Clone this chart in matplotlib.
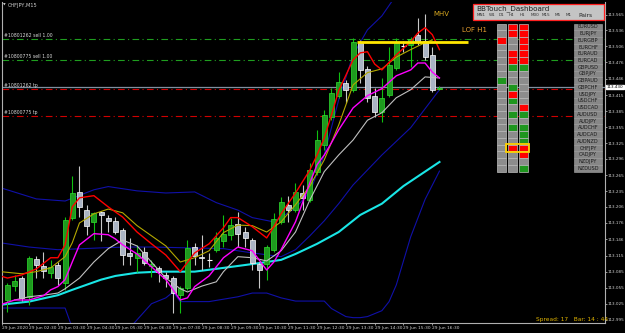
import matplotlib
matplotlib.use("Agg")
import matplotlib.pyplot as plt
from matplotlib.patches import Rectangle
import numpy as np

# ---- candle data (CHFJPY M15, one entry per bar) ----
opens = [113.032, 113.058, 113.073, 113.038, 113.109, 113.096, 113.083, 113.098, 113.064, 113.186,
         113.234, 113.200, 113.178, 113.197, 113.186, 113.180, 113.163, 113.120, 113.111, 113.122,
         113.096, 113.092, 113.079, 113.073, 113.041, 113.055, 113.131, 113.113, 113.107, 113.126,
         113.143, 113.154, 113.174, 113.159, 113.144, 113.100, 113.100, 113.126, 113.178, 113.210,
         113.200, 113.232, 113.219, 113.272, 113.322, 113.374, 113.414, 113.438, 113.425, 113.515,
         113.464, 113.414, 113.384, 113.415, 113.466, 113.507, 113.509, 113.528, 113.516, 113.490,
         113.427]
highs = [113.064, 113.079, 113.077, 113.115, 113.115, 113.122, 113.107, 113.103, 113.187, 113.264,
         113.283, 113.210, 113.197, 113.199, 113.191, 113.187, 113.167, 113.148, 113.135, 113.131,
         113.107, 113.096, 113.085, 113.077, 113.058, 113.144, 113.139, 113.154, 113.120, 113.159,
         113.191, 113.186, 113.197, 113.169, 113.148, 113.103, 113.135, 113.195, 113.225, 113.227,
         113.251, 113.247, 113.288, 113.350, 113.387, 113.429, 113.458, 113.444, 113.522, 113.518,
         113.470, 113.429, 113.447, 113.505, 113.522, 113.516, 113.524, 113.559, 113.567, 113.505,
         113.432]
lows = [113.010, 113.049, 113.030, 113.023, 113.073, 113.073, 113.073, 113.060, 113.051, 113.182,
        113.187, 113.154, 113.144, 113.143, 113.159, 113.156, 113.098, 113.098, 113.085, 113.098,
        113.075, 113.066, 113.057, 113.008, 113.008, 113.051, 113.098, 113.088, 113.094, 113.122,
        113.131, 113.144, 113.131, 113.131, 113.088, 113.055, 113.070, 113.122, 113.174, 113.178,
        113.197, 113.200, 113.215, 113.266, 113.312, 113.368, 113.410, 113.400, 113.421, 113.438,
        113.402, 113.374, 113.365, 113.412, 113.462, 113.496, 113.468, 113.509, 113.481, 113.421,
        113.425]
closes = [113.060, 113.068, 113.036, 113.111, 113.098, 113.086, 113.094, 113.073, 113.182, 113.232,
          113.206, 113.171, 113.195, 113.191, 113.180, 113.159, 113.116, 113.115, 113.120, 113.101,
          113.100, 113.085, 113.073, 113.045, 113.055, 113.130, 113.115, 113.111, 113.107, 113.148,
          113.156, 113.172, 113.156, 113.148, 113.101, 113.088, 113.131, 113.184, 113.215, 113.200,
          113.234, 113.223, 113.275, 113.331, 113.378, 113.419, 113.440, 113.425, 113.515, 113.462,
          113.410, 113.384, 113.410, 113.472, 113.513, 113.507, 113.520, 113.516, 113.486, 113.425,
          113.429]

# ---- indicator lines (bar index, price) ----
red_x = [-1, 0, 2, 4, 6, 7, 8, 9, 10, 12, 14, 16, 18, 20, 22, 24, 26, 28, 30, 31, 32, 34, 36, 37,
         38, 40, 42, 43, 44, 45, 46, 48, 49, 50, 51, 52, 54, 56, 57, 58, 59, 60]
red_y = [113.077, 113.073, 113.079, 113.090, 113.111, 113.111, 113.135, 113.206, 113.223, 113.227,
         113.206, 113.187, 113.159, 113.137, 113.116, 113.085, 113.120, 113.137, 113.167, 113.186,
         113.186, 113.169, 113.148, 113.169, 113.193, 113.232, 113.275, 113.303, 113.335, 113.378,
         113.423, 113.481, 113.494, 113.496, 113.473, 113.462, 113.490, 113.515, 113.531, 113.541,
         113.528, 113.500]

olive_x = [-1, 2, 4, 6, 8, 9, 10, 12, 14, 16, 18, 20, 22, 24, 26, 28, 30, 32, 34, 36, 38, 40, 42,
           44, 46, 48, 50, 52, 54, 56, 58, 59]
olive_y = [113.085, 113.081, 113.085, 113.092, 113.113, 113.139, 113.176, 113.193, 113.202, 113.195,
           113.171, 113.152, 113.133, 113.103, 113.111, 113.124, 113.158, 113.172, 113.171, 113.159,
           113.178, 113.210, 113.245, 113.294, 113.359, 113.434, 113.457, 113.464, 113.486, 113.500,
           113.513, 113.518]

magenta_x = [-1, 1, 3, 5, 6, 7, 8, 9, 10, 12, 14, 15, 16, 18, 20, 22, 24, 25, 26, 28, 30, 32, 34,
             36, 37, 38, 40, 42, 43, 44, 45, 46, 48, 50, 52, 54, 56, 57, 58, 59, 60]
magenta_y = [113.023, 113.032, 113.032, 113.040, 113.051, 113.057, 113.070, 113.103, 113.135, 113.156,
             113.154, 113.146, 113.135, 113.118, 113.094, 113.070, 113.032, 113.036, 113.057, 113.077,
             113.111, 113.131, 113.124, 113.088, 113.103, 113.126, 113.178, 113.251, 113.285, 113.303,
             113.326, 113.350, 113.391, 113.414, 113.427, 113.451, 113.462, 113.475, 113.475, 113.458,
             113.447]

silver_x = [1, 3, 5, 7, 8, 10, 12, 14, 16, 18, 20, 22, 24, 25, 27, 29, 30, 32, 34, 36, 38, 40, 42,
            44, 46, 48, 50, 52, 54, 56, 58, 60]
silver_y = [113.032, 113.038, 113.041, 113.045, 113.053, 113.073, 113.103, 113.128, 113.144, 113.133,
            113.103, 113.073, 113.053, 113.047, 113.058, 113.066, 113.085, 113.113, 113.111, 113.105,
            113.124, 113.159, 113.219, 113.272, 113.303, 113.331, 113.368, 113.382, 113.410, 113.425,
            113.449, 113.447]

cyan_x = [-1, 3, 7, 9, 13, 15, 18, 21, 26, 30, 35, 38, 40, 43, 46, 49, 52, 55, 58, 60]
cyan_y = [113.023, 113.029, 113.041, 113.051, 113.070, 113.077, 113.083, 113.085, 113.085, 113.092,
          113.101, 113.107, 113.118, 113.137, 113.159, 113.191, 113.212, 113.245, 113.272, 113.290]

# Bollinger bands (navy): upper, middle, lower
band_up_x = [-1, 4, 8, 12, 14, 18, 22, 26, 29, 32, 34, 37, 40, 42, 44, 46, 48, 50, 52, 54]
band_up_y = [113.242, 113.221, 113.217, 113.238, 113.244, 113.236, 113.232, 113.234, 113.214, 113.200,
             113.186, 113.178, 113.204, 113.234, 113.303, 113.406, 113.490, 113.537, 113.563, 113.602]

band_mid_x = [-1, 3, 7, 14, 17, 20, 30, 34, 38, 40, 42, 44, 46, 48, 52, 56, 60]
band_mid_y = [113.139, 113.131, 113.126, 113.130, 113.131, 113.131, 113.128, 113.120, 113.113, 113.126,
              113.152, 113.180, 113.212, 113.247, 113.303, 113.354, 113.425]

band_low_x = [-1, 2, 6, 8, 9, 15, 17, 20, 22, 23, 24, 26, 28, 32, 34, 36, 38, 40, 44, 45, 47, 48,
              49, 50, 52, 53, 54, 56, 58, 60]
band_low_y = [113.017, 113.017, 113.017, 113.017, 112.980, 112.980, 112.980, 113.025, 113.036, 113.047,
              113.029, 113.029, 113.029, 113.038, 113.045, 113.045, 113.036, 113.030, 113.030, 113.016,
              113.001, 112.999, 112.999, 113.001, 113.012, 113.029, 113.060, 113.150, 113.220, 113.273]

# ---- order / level lines ----
sell_levels = [113.520, 113.481]
tp_levels = [113.427, 113.376]
sell_labels = ["#10801262 sell 1.00", "#10800775 sell 1.00"]
tp_labels = ["#10801262 tp", "#10800775 tp"]
bid = 113.430
lof_level = 113.515
lof_span = (48.5, 64.0)

price_ticks = [113.565, 113.536, 113.506, 113.476, 113.446, 113.415, 113.385, 113.355, 113.325,
               113.296, 113.265, 113.235, 113.206, 113.176, 113.146, 113.115, 113.085, 113.055,
               113.025, 112.995]
time_ticks = [-0.7, 3, 7, 11, 15, 19, 23, 27, 31, 35, 39, 43, 47, 51, 55, 59]
time_labels = ["29 Jun 2020", "29 Jun 02:30", "29 Jun 03:30", "29 Jun 04:30", "29 Jun 05:30",
               "29 Jun 06:30", "29 Jun 07:30", "29 Jun 08:30", "29 Jun 09:30", "29 Jun 10:30",
               "29 Jun 11:30", "29 Jun 12:30", "29 Jun 13:30", "29 Jun 14:30", "29 Jun 15:30",
               "29 Jun 16:30"]

# ---- dashboard data: 0 = none (gray), 1 = sell (red), 2 = buy (green) ----
pairs = ["EURUSD", "EURJPY", "EURGBP", "EURCHF", "EURAUD", "EURCAD", "GBPUSD", "GBPJPY", "GBPAUD",
         "GBPCHF", "USDJPY", "USDCHF", "USDCAD", "AUDUSD", "AUDJPY", "AUDCHF", "AUDCAD", "AUDNZD",
         "CHFJPY", "CADJPY", "NZDJPY", "NZDUSD"]
sig_d1 = [0, 0, 1, 0, 0, 0, 0, 0, 2, 0, 0, 0, 0, 0, 0, 0, 0, 0, 0, 0, 0, 0]
sig_h4 = [1, 1, 0, 0, 1, 1, 2, 0, 0, 2, 1, 2, 0, 2, 0, 2, 0, 0, 1, 0, 0, 0]
sig_h1 = [1, 1, 1, 1, 1, 1, 2, 0, 0, 0, 0, 0, 1, 2, 0, 2, 2, 2, 1, 1, 0, 2]
tf_headers = ["MN1", "W1", "D1", "H4", "H1", "M30", "M15", "M5", "M1"]
highlight_row = "CHFJPY"

W, H = 625, 333
fig = plt.figure(figsize=(W / 100, H / 100), dpi=100, facecolor="black")

# chart area: x 2..605 px, y 2..323 px
ax = fig.add_axes([2 / W, 10 / H, 603 / W, 321 / H])
ax.set_facecolor("black")
ax.set_xlim(-0.76, 82.99)
ax.set_ylim(112.989, 113.589)

# order lines
for lvl, lab in zip(sell_levels, sell_labels):
    ax.axhline(lvl, color="#1f9e1f", lw=0.8, ls=(0, (6, 3, 1, 3)), zorder=1)
    ax.text(-0.5, lvl + 0.002, lab, color="#d8d8d8", fontsize=3.3, va="bottom", ha="left")
ax.axhline(bid, color="#8090a0", lw=0.9, zorder=1)
for lvl, lab in zip(tp_levels, tp_labels):
    ax.axhline(lvl, color="#d00000", lw=0.8, ls=(0, (6, 3, 1, 3)), zorder=1)
    ax.text(-0.5, lvl + 0.002, lab, color="#d8d8d8", fontsize=3.3, va="bottom", ha="left")

# indicators
ax.plot(band_up_x, band_up_y, color="#1010a8", lw=0.8, zorder=2)
ax.plot(band_mid_x, band_mid_y, color="#1010a8", lw=0.8, zorder=2)
ax.plot(band_low_x, band_low_y, color="#1010a8", lw=0.8, zorder=2)
ax.plot(cyan_x, cyan_y, color="#19e6e6", lw=1.5, zorder=2)

# candles
x = np.arange(len(opens))
o = np.array(opens); c = np.array(closes)
up = c > o
dn = c < o
flat = c == o
wick_col = np.where(up, "#10c010", "#c8c8c8")
ax.vlines(x, lows, highs, colors=wick_col, lw=0.8, zorder=3)
ax.bar(x[up], (c - o)[up], bottom=o[up], width=0.68, color="#1e9a1e",
       edgecolor="#2ee02e", linewidth=0.5, zorder=4)
ax.bar(x[dn], (o - c)[dn], bottom=c[dn], width=0.68, color="#aab4c4",
       edgecolor="#ffffff", linewidth=0.5, zorder=4)
ax.hlines(c[flat], x[flat] - 0.35, x[flat] + 0.35, colors="#ffffff", lw=0.8, zorder=4)

ax.plot(silver_x, silver_y, color="#c0c0c0", lw=0.8, zorder=5)
ax.plot(olive_x, olive_y, color="#b4a800", lw=0.8, zorder=5)
ax.plot(magenta_x, magenta_y, color="#ff00ff", lw=1.0, zorder=5)
ax.plot(red_x, red_y, color="#ff0000", lw=1.0, zorder=5)

ax.hlines(lof_level, lof_span[0], lof_span[1], colors="#ffe600", lw=2.0, zorder=6)

# axes styling
ax.spines["top"].set_visible(False)
for s in ["left", "bottom", "right"]:
    ax.spines[s].set_color("#b0b0b0")
    ax.spines[s].set_linewidth(0.8)
ax.yaxis.tick_right()
ax.set_yticks(price_ticks)
ax.set_yticklabels([f"{v:.3f}" for v in price_ticks])
ax.tick_params(axis="y", colors="#b0b0b0", labelcolor="#d0d0d0", labelsize=3.0,
               length=1.5, width=0.6, pad=0.6)
ax.set_xticks(time_ticks)
ax.set_xticklabels(time_labels, ha="left")
ax.tick_params(axis="x", colors="#b0b0b0", labelcolor="#d0d0d0", labelsize=3.2,
               length=1.5, width=0.6, pad=0.6)

# current price marker on the scale
ax.text(1.003, bid, f"{bid:.3f}", transform=ax.get_yaxis_transform(), fontsize=3.0,
        color="black", va="center", ha="left",
        bbox=dict(boxstyle="square,pad=0.1", fc="white", ec="white"))

# ---- overlay in pixel coordinates ----
ov = fig.add_axes([0, 0, 1, 1])
ov.set_xlim(0, W)
ov.set_ylim(H, 0)
ov.axis("off")
ov.patch.set_alpha(0)

ov.text(3, 5, "\u25BC", color="#d0d0d0", fontsize=2.5, va="center")
ov.text(8, 5, "CHFJPY,M15", color="#d0d0d0", fontsize=3.6, va="center")
ov.text(433, 14, "MHV", color="#d8a820", fontsize=5, va="center")
ov.text(462, 30, "LOF H1", color="#e8a030", fontsize=5, va="center")
ov.text(536, 319, "Spread: 17   Bar: 14 : 44", color="#e0b400", fontsize=4.2, va="center")

# dashboard header
ov.add_patch(Rectangle((473, 4), 131, 16, fc="#c4c4c4", ec="#ff2020", lw=0.9))
ov.text(476, 9, "BBTouch_Dashboard", color="#202020", fontsize=5.2, va="center")
hx = [477, 489, 499, 509, 520, 531, 542, 555, 566]
for xx, t in zip(hx, tf_headers):
    ov.text(xx, 15.5, t, color="#303030", fontsize=3.0, va="center")
ov.text(578, 15.5, "Pairs", color="#202020", fontsize=4.2, va="center")

colors = {0: "#8c8c8c", 1: "#ff0000", 2: "#1e961e"}
col_x = [497, 508, 519]
row_top = 23.5
row_h = 6.73
for ci, sig in enumerate([sig_d1, sig_h4, sig_h1]):
    for ri, s in enumerate(sig):
        ov.add_patch(Rectangle((col_x[ci], row_top + ri * row_h), 9, row_h,
                               fc=colors[s], ec="#bdbdbd", lw=0.5))
for ri, p in enumerate(pairs):
    ov.add_patch(Rectangle((574, row_top + ri * row_h), 28, row_h,
                           fc="#878787", ec="#a8a8a8", lw=0.4))
    ov.text(588, row_top + ri * row_h + row_h / 2, p, color="#1c1c1c",
            fontsize=3.6, ha="center", va="center")
hr = pairs.index(highlight_row)
ov.add_patch(Rectangle((506, row_top + hr * row_h - 1), 23, row_h + 2,
                       fc="none", ec="#ffd000", lw=1.3))

fig.savefig("out.png", dpi=100, facecolor="black")
